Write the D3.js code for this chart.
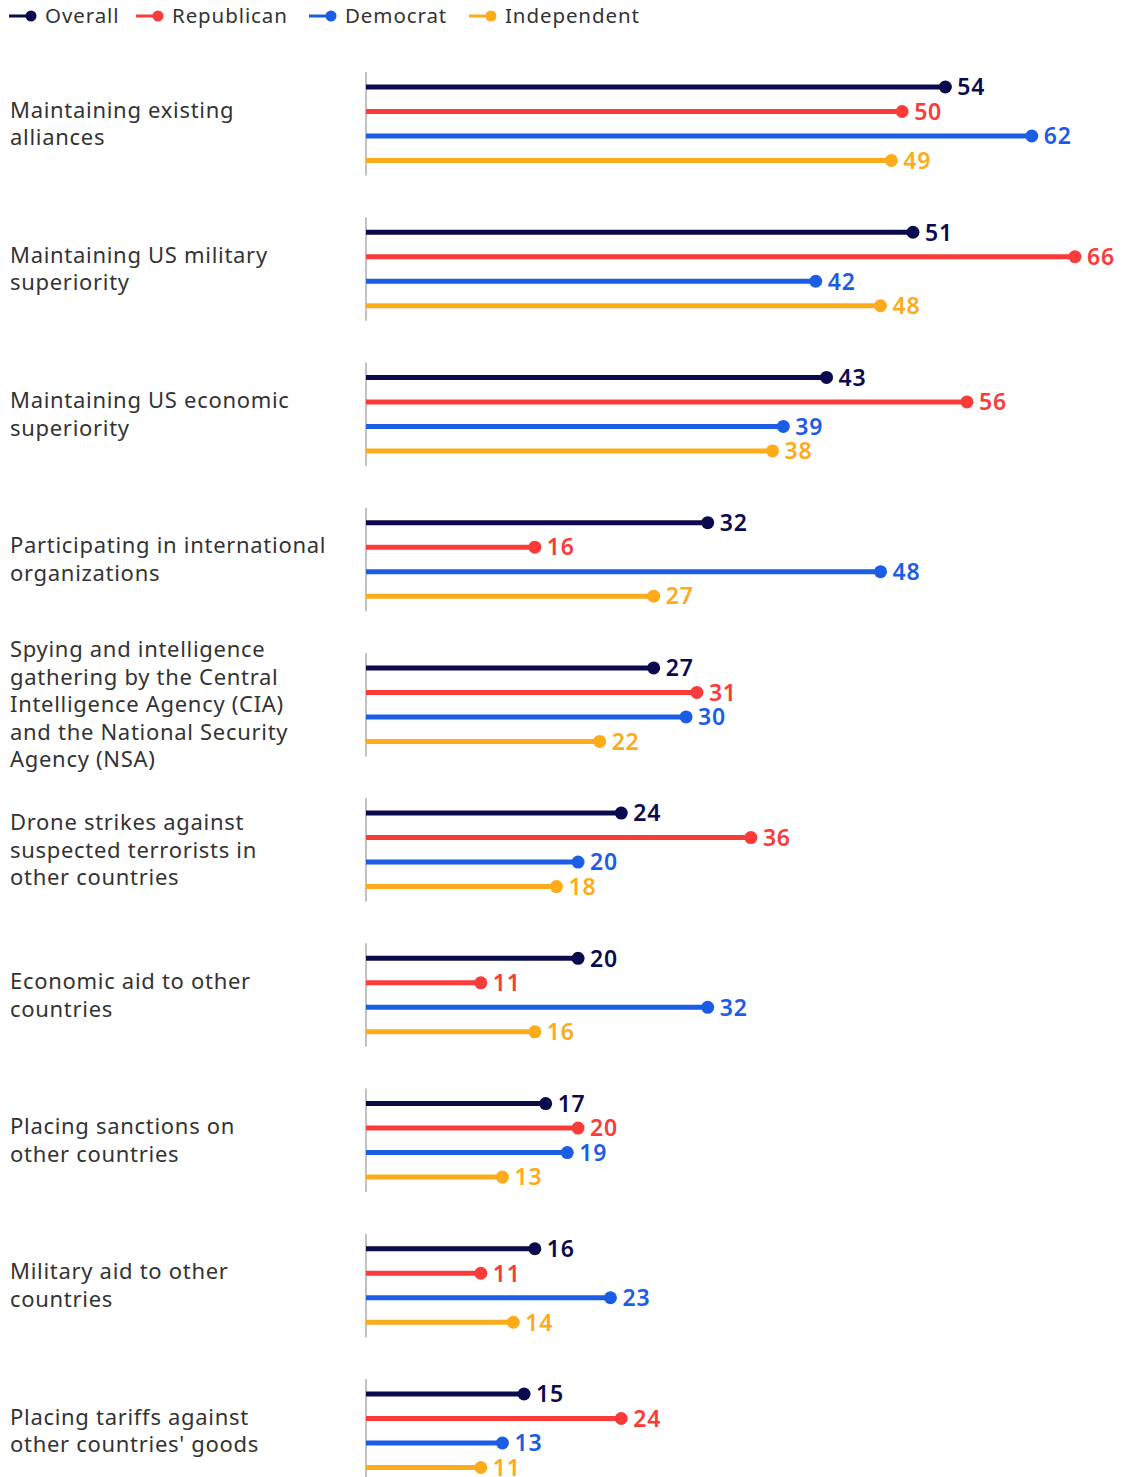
<!DOCTYPE html>
<html><head><meta charset="utf-8">
<script src="https://cdn.jsdelivr.net/npm/d3@7/dist/d3.min.js"></script>
<style>
body{margin:0;background:#fff;}
svg text{font-family:"Noto Sans",sans-serif;}
</style></head>
<body><svg id="c" width="1129" height="1477"></svg>
<script>
const categories = [
  ["Maintaining existing","alliances"],
  ["Maintaining US military","superiority"],
  ["Maintaining US economic","superiority"],
  ["Participating in international","organizations"],
  ["Spying and intelligence","gathering by the Central","Intelligence Agency (CIA)","and the National Security","Agency (NSA)"],
  ["Drone strikes against","suspected terrorists in","other countries"],
  ["Economic aid to other","countries"],
  ["Placing sanctions on","other countries"],
  ["Military aid to other","countries"],
  ["Placing tariffs against","other countries' goods"]
];
const seriesNames = ["Overall","Republican","Democrat","Independent"];
const overall     = [54,51,43,32,27,24,20,17,16,15];
const republican  = [50,66,56,16,31,36,11,20,11,24];
const democrat    = [62,42,39,48,30,20,32,19,23,13];
const independent = [49,48,38,27,22,18,16,13,14,11];
const seriesValues = [overall, republican, democrat, independent];
const colors = ["#0b0a4f","#fb3b3a","#1c5de6","#fdab1b"];

const svg = d3.select("#c");
const x = d3.scaleLinear().domain([0,66]).range([362,1075]);
const axisX = 366;
const gy = d3.scaleLinear().domain([0,9]).range([87,1394]);
const ry = d3.scaleLinear().domain([0,3]).range([0,73.5]);

// legend
const legX = [9,136,309,469];
const leg = svg.append("g");
seriesNames.forEach((n,i)=>{
  const g = leg.append("g").attr("transform",`translate(${legX[i]},16)`);
  g.append("line").attr("x1",0).attr("x2",20).attr("y1",0).attr("y2",0).attr("stroke",colors[i]).attr("stroke-width",3);
  g.append("circle").attr("cx",22).attr("cy",0).attr("r",5.5).attr("fill",colors[i]);
  g.append("text").attr("x",36).attr("y",0).attr("dy","0.35em").attr("font-size",20.5).attr("letter-spacing",0.9).attr("fill","#333").text(n);
});

categories.forEach((lines,ci)=>{
  const y0 = gy(ci);
  const g = svg.append("g");
  g.append("line").attr("x1",axisX).attr("x2",axisX).attr("y1",y0-15).attr("y2",y0+ry(3)+15).attr("stroke","#999").attr("stroke-width",1.2);
  const cy = y0 + ry(3)/2;
  const lh = 27.5;
  const t = g.append("text").attr("font-size",22).attr("letter-spacing",0.7).attr("fill","#333");
  lines.forEach((l,li)=>{
    t.append("tspan").attr("x",10).attr("y",cy + (li-(lines.length-1)/2)*lh).attr("dy","0.35em").text(l);
  });
  seriesValues.forEach((vals,si)=>{
    const y = y0 + ry(si);
    const v = vals[ci];
    g.append("line").attr("x1",axisX).attr("x2",x(v)).attr("y1",y).attr("y2",y).attr("stroke",colors[si]).attr("stroke-width",5);
    g.append("circle").attr("cx",x(v)).attr("cy",y).attr("r",6.5).attr("fill",colors[si]);
    g.append("text").attr("x",x(v)+12).attr("y",y).attr("dy","0.36em").attr("font-size",23).attr("letter-spacing",0.8).attr("font-weight",600).attr("fill",colors[si]).text(v);
  });
});
</script></body></html>
